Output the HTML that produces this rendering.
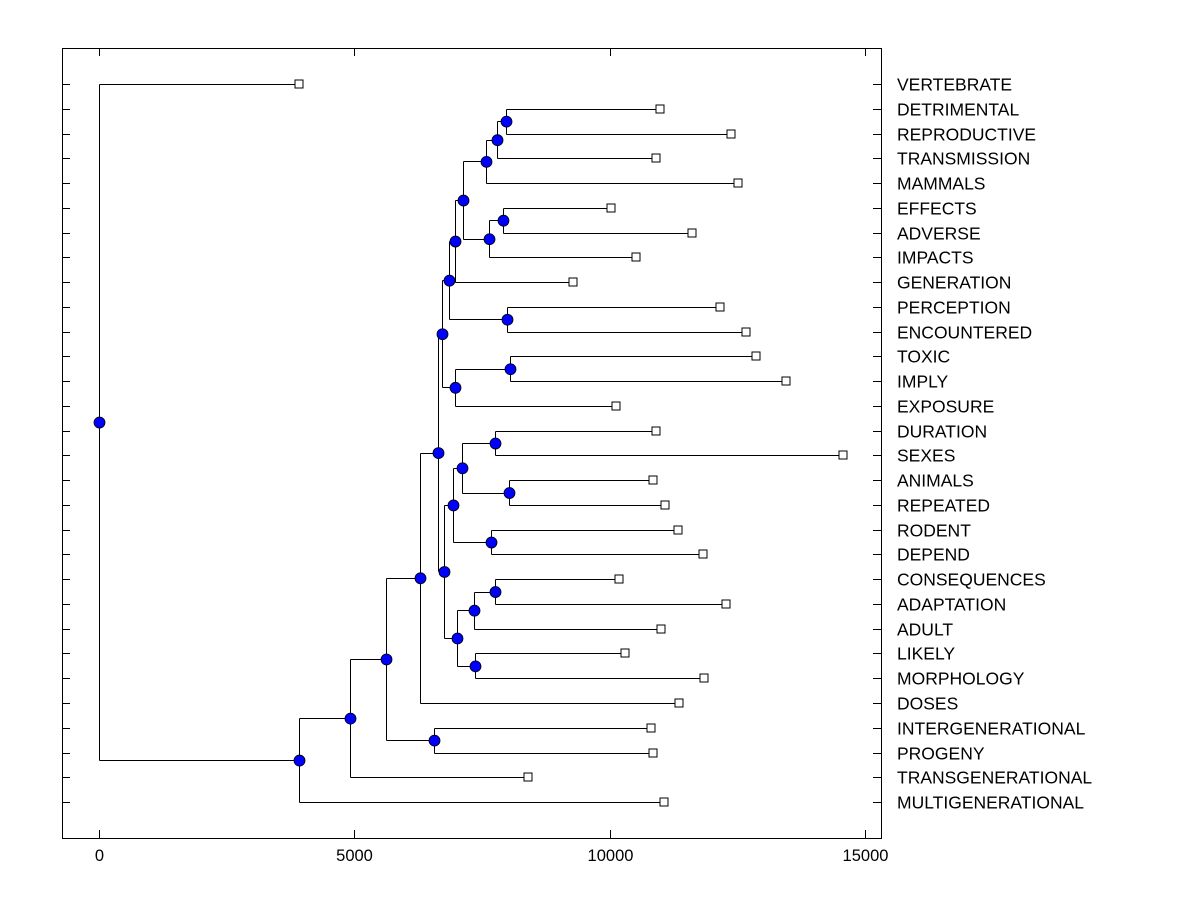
<!DOCTYPE html>
<html><head><meta charset="utf-8"><style>body{margin:0;background:#fff}svg{display:block}</style></head>
<body>
<svg width="1200" height="900" xmlns="http://www.w3.org/2000/svg" font-family="Liberation Sans, Arial, sans-serif">
<rect x="0" y="0" width="1200" height="900" fill="#fff"/>
<g id="g" stroke="#000" stroke-width="1" fill="none" shape-rendering="crispEdges"></g>
<g id="t" font-size="17.5" fill="#000"></g>
</svg>
<script>
const names=["VERTEBRATE","DETRIMENTAL","REPRODUCTIVE","TRANSMISSION","MAMMALS","EFFECTS","ADVERSE","IMPACTS","GENERATION","PERCEPTION","ENCOUNTERED","TOXIC","IMPLY","EXPOSURE","DURATION","SEXES","ANIMALS","REPEATED","RODENT","DEPEND","CONSEQUENCES","ADAPTATION","ADULT","LIKELY","MORPHOLOGY","DOSES","INTERGENERATIONAL","PROGENY","TRANSGENERATIONAL","MULTIGENERATIONAL"];
const xe=[299,660,731,656,738,611,692,636,573,720,746,756,786,616,656,843,653,665,678,703,619,726,661,625,704,679,651,653,528,664];
const N={};
names.forEach((n,i)=>{N[i]={x:xe[i],y:84+i*24.76,leaf:true};});
function nd(k,x,a,b){N[k]={x:x,a:a,b:b,y:(N[a].y+N[b].y)/2};}
nd('a',506,1,2);nd('b',497,'a',3);nd('c',486,'b',4);nd('d',503,5,6);nd('e',489,'d',7);nd('f',463,'c','e');nd('g',455,'f',8);nd('h',507,9,10);nd('i',449,'g','h');nd('j',510,11,12);nd('k',455,'j',13);nd('l',442,'i','k');
nd('m',495,14,15);nd('n',509,16,17);nd('o',462,'m','n');nd('p',491,18,19);nd('q',453,'o','p');nd('r',495,20,21);nd('s',474,'r',22);nd('t',475,23,24);nd('u',457,'s','t');nd('v',444,'q','u');nd('w',438,'l','v');nd('x1',420,'w',25);nd('y1',434,26,27);nd('z',386,'x1','y1');nd('aa',350,'z',28);nd('bb',299,'aa',29);nd('root',99,0,'bb');
let s='',c='',t='';
s+='<rect x="62.5" y="48.5" width="819" height="790"/>';
for(const k in N){const n=N[k];if(n.leaf){s+=`<rect x="${n.x-4}" y="${Math.round(n.y)-4}" width="8" height="8" fill="#fff"/>`;continue;}
 const A=N[n.a],B=N[n.b];
 s+=`<line x1="${n.x+.5}" y1="${Math.round(A.y)+.5}" x2="${n.x+.5}" y2="${Math.round(B.y)+.5}"/>`;
 [A,B].forEach(C=>{s+=`<line x1="${n.x+.5}" y1="${Math.round(C.y)+.5}" x2="${C.leaf?C.x-4:C.x}" y2="${Math.round(C.y)+.5}"/>`;});
 c+=`<circle cx="${n.x+.5}" cy="${n.y+.5}" r="5.5" fill="#0000ff" stroke="#000" stroke-width="0.8"/>`;}
for(let i=0;i<30;i++){const y=Math.round(84+i*24.76)+.5;s+=`<line x1="62" y1="${y}" x2="70" y2="${y}"/><line x1="873" y1="${y}" x2="882" y2="${y}"/>`;
 t+=`<text x="897" y="${y+6}">${names[i]}</text>`;}
[0,5000,10000,15000].forEach(v=>{const x=Math.round(99+v*766/15000)+.5;s+=`<line x1="${x}" y1="838" x2="${x}" y2="830"/><line x1="${x}" y1="48" x2="${x}" y2="56"/>`;
 t+=`<text x="${x}" y="861" text-anchor="middle" font-size="16.5">${v}</text>`;});
document.getElementById('g').innerHTML=s;
document.getElementById('g').insertAdjacentHTML('afterend',`<g>${c}</g>`);
document.getElementById('t').innerHTML=t;
</script>
</body></html>
